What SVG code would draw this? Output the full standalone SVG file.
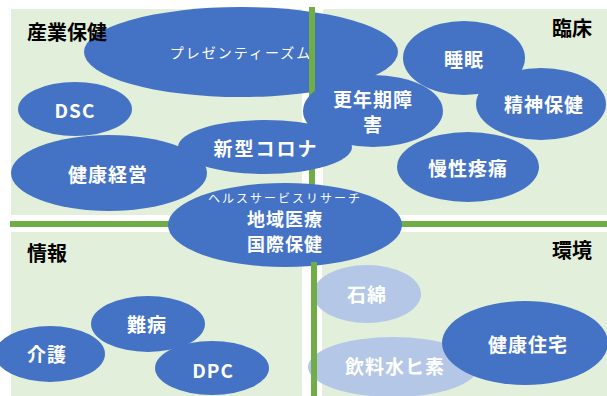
<svg xmlns="http://www.w3.org/2000/svg" width="607" height="396" viewBox="0 0 607 396">
<style>
.q{fill:#E2EFDA}
.d{fill:#4472C4}
.l{fill:#B4C7E7}
.g{fill:#70AD47}
.t{fill:#fff;font-family:"Noto Sans CJK JP","Noto Sans",sans-serif;font-weight:bold;font-size:19px;text-anchor:middle;dominant-baseline:central;letter-spacing:1px}
.s{font-size:14px;font-weight:normal;letter-spacing:2px}
.h{fill:#000;font-family:"Noto Sans CJK JP","Noto Sans",sans-serif;font-weight:bold;font-size:20px;dominant-baseline:central}
</style>
<rect width="607" height="396" fill="#fff"/>
<g id="quadrants">
<rect class="q" x="11" y="9" width="291" height="206"/>
<rect class="q" x="323" y="9" width="284" height="206"/>
<rect class="q" x="11" y="232" width="291" height="164"/>
<rect class="q" x="322" y="232" width="285" height="164"/>
</g>
<g id="n-presenteeism"><ellipse class="d" cx="241" cy="52" rx="157" ry="45"/><text class="t s" x="241" y="52">プレゼンティーズム</text></g>
<g id="connectors">
<rect class="g" x="309" y="7" width="6" height="217"/>
<rect class="g" x="10" y="221" width="597" height="6"/>
</g>
<g id="n-dsc"><ellipse class="d" cx="75" cy="109" rx="57" ry="27"/><text class="t" x="75" y="109">DSC</text></g>
<g id="n-kenkokeiei"><ellipse class="d" cx="109" cy="173" rx="98" ry="38"/><text class="t" x="108" y="173">健康経営</text></g>
<g id="n-corona"><ellipse class="d" cx="265" cy="147" rx="87" ry="27"/><text class="t" x="266" y="147" style="letter-spacing:2px">新型コロナ</text></g>
<g id="n-konenki"><ellipse class="d" cx="373" cy="111" rx="70" ry="36"/><text class="t" x="373" y="98">更年期障</text><text class="t" x="373" y="123">害</text></g>
<g id="n-suimin"><ellipse class="d" cx="464" cy="58" rx="61" ry="37"/><text class="t" x="464" y="58">睡眠</text></g>
<g id="n-seishin"><ellipse class="d" cx="541" cy="104" rx="65" ry="36"/><text class="t" x="544" y="103">精神保健</text></g>
<g id="n-mansei"><ellipse class="d" cx="468" cy="167" rx="71" ry="35"/><text class="t" x="468" y="167">慢性疼痛</text></g>
<g id="connectors-bottom">
<rect class="g" x="311" y="224" width="6" height="172"/>
</g>
<g id="n-center"><ellipse class="d" cx="285" cy="225" rx="117" ry="42"/><text class="t s" x="285" y="197" style="font-size:12px">ヘルスサービスリサーチ</text><text class="t" x="285" y="218" style="font-size:18px">地域医療</text><text class="t" x="285" y="243" style="font-size:18px">国際保健</text></g>
<g id="n-kaigo"><ellipse class="d" cx="50" cy="354" rx="55" ry="28"/><text class="t" x="47" y="353">介護</text></g>
<g id="n-nanbyo"><ellipse class="d" cx="148" cy="324" rx="57" ry="28"/><text class="t" x="147" y="323">難病</text></g>
<g id="n-dpc"><ellipse class="d" cx="212" cy="368" rx="57" ry="27"/><text class="t" x="213" y="369">DPC</text></g>
<g id="n-sekimen"><ellipse class="l" cx="367" cy="294" rx="54" ry="29"/><text class="t" x="367" y="293">石綿</text></g>
<g id="n-hiso"><ellipse class="l" cx="393" cy="367" rx="85" ry="30"/><text class="t" x="395" y="365">飲料水ヒ素</text></g>
<g id="line-over"><rect class="g" x="311" y="262" width="6" height="134"/></g>
<g id="n-jutaku"><ellipse class="d" cx="525" cy="343" rx="83" ry="42"/><text class="t" x="528" y="343">健康住宅</text></g>
<g id="labels">
<text class="h" x="27" y="31">産業保健</text>
<text class="h" x="552" y="27">臨床</text>
<text class="h" x="27" y="252">情報</text>
<text class="h" x="552" y="249">環境</text>
</g>
</svg>
